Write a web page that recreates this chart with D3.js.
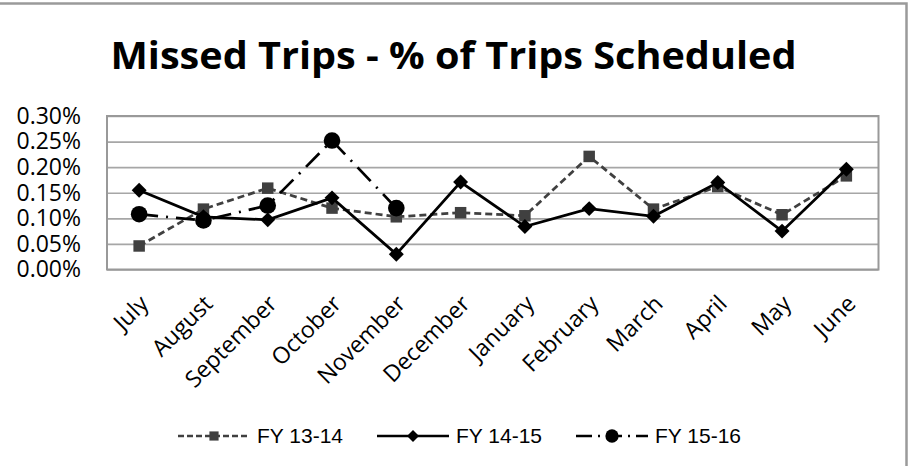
<!DOCTYPE html>
<html lang="en">
<head>
  <meta charset="UTF-8">
  <title>Missed Trips - % of Trips Scheduled</title>
  <style>
    body { margin: 0; background: #fff; }
    svg { display: block; }
    .axis-label { font-family: "Open Sans", sans-serif; font-size: 23px; fill: #000; }
    .legend-label { font-family: "Liberation Sans", Arial, sans-serif; font-size: 21px; fill: #000; }
  </style>
</head>
<body>
  <svg id="chart" width="912" height="466"></svg>

  <script src="https://d3js.org/d3.v7.min.js"></script>
  <script>
    // values (percent of trips scheduled)
    const months = ["July", "August", "September", "October", "November", "December",
                    "January", "February", "March", "April", "May", "June"];
    const yTicks = [0, 0.05, 0.10, 0.15, 0.20, 0.25, 0.30];
    const fy1314 = [0.046, 0.118, 0.159, 0.120, 0.103, 0.111, 0.105, 0.221, 0.118, 0.162, 0.107, 0.183];
    const fy1415 = [0.155, 0.103, 0.097, 0.140, 0.030, 0.171, 0.084, 0.119, 0.104, 0.170, 0.075, 0.196];
    const fy1516 = [0.108, 0.096, 0.125, 0.252, 0.120, null, null, null, null, null, null, null];
    const seriesNames = ["FY 13-14", "FY 14-15", "FY 15-16"];

    const series = [
      { name: seriesNames[0], values: fy1314, color: "#404040", dash: "7,4", legendDash: "6,3", marker: "square" },
      { name: seriesNames[1], values: fy1415, color: "#000", dash: null, legendDash: null, marker: "diamond" },
      { name: seriesNames[2], values: fy1516, color: "#000", dash: "19,8,2,8", legendDash: "16,6,2,6", marker: "circle" }
    ];

    const svg = d3.select("#chart");
    const plot = { left: 107, right: 878.5, top: 116, bottom: 269.5 };

    // outer chart border
    svg.append("rect")
      .attr("x", -2).attr("y", 3.5)
      .attr("width", 908.5).attr("height", 500)
      .attr("fill", "#fff")
      .attr("stroke", "#9a9a9a")
      .attr("stroke-width", 2.5);

    // title
    svg.append("text")
      .attr("x", 453.5).attr("y", 69)
      .attr("text-anchor", "middle")
      .attr("textLength", 686)
      .attr("lengthAdjust", "spacingAndGlyphs")
      .style("font-family", "'Open Sans', sans-serif")
      .style("font-weight", "bold")
      .style("font-size", "37px")
      .text("Missed Trips - % of Trips Scheduled");

    const x = d3.scaleBand().domain(months).range([plot.left, plot.right]);
    const y = d3.scaleLinear().domain([0, 0.30]).range([plot.bottom, plot.top]);
    const cx = m => x(m) + x.bandwidth() / 2;

    // gridlines
    svg.append("g")
      .attr("transform", `translate(${plot.left},0)`)
      .call(d3.axisLeft(y).tickValues(yTicks).tickSize(-(plot.right - plot.left)).tickFormat(""))
      .call(g => g.select(".domain").remove())
      .selectAll("line")
      .attr("stroke", "#a6a6a6")
      .attr("stroke-width", 1.6);

    // plot area border
    svg.append("rect")
      .attr("x", plot.left).attr("y", plot.top)
      .attr("width", plot.right - plot.left).attr("height", plot.bottom - plot.top)
      .attr("fill", "none")
      .attr("stroke", "#999")
      .attr("stroke-width", 2);

    // y axis labels
    svg.append("g")
      .attr("transform", `translate(${plot.left},0)`)
      .call(d3.axisLeft(y).tickValues(yTicks).tickSize(0).tickPadding(26).tickFormat(d => d.toFixed(2) + "%"))
      .call(g => g.select(".domain").remove())
      .selectAll("text")
      .attr("class", "axis-label")
      .attr("font-size", null)
      .attr("font-family", null);

    // x axis labels, rotated
    svg.append("g")
      .attr("transform", `translate(0,${plot.bottom})`)
      .call(d3.axisBottom(x).tickSize(0))
      .call(g => g.select(".domain").remove())
      .selectAll("text")
      .attr("class", "axis-label")
      .attr("y", null).attr("dy", "0.35em")
      .attr("text-anchor", "end")
      .attr("transform", "translate(5,30) rotate(-45)");

    const line = d3.line()
      .defined(d => d.v != null)
      .x(d => cx(d.m))
      .y(d => y(d.v));

    function drawMarker(sel, type, color, scale) {
      if (type === "square") {
        sel.append("path").attr("d", d3.symbol(d3.symbolSquare, 132 * scale * scale)).attr("fill", color);
      } else if (type === "diamond") {
        sel.append("path").attr("d", d3.symbol(d3.symbolSquare, 112 * scale * scale))
          .attr("transform", "rotate(45)").attr("fill", color);
      } else {
        sel.append("circle").attr("r", 8.3 * scale).attr("fill", color);
      }
    }

    series.forEach(s => {
      const pts = months.map((m, i) => ({ m, v: s.values[i] }));
      const g = svg.append("g");
      g.append("path")
        .datum(pts)
        .attr("d", line)
        .attr("fill", "none")
        .attr("stroke", s.color)
        .attr("stroke-width", 2.75)
        .attr("stroke-dasharray", s.dash);
      pts.filter(d => d.v != null).forEach(d => {
        const mg = g.append("g").attr("transform", `translate(${cx(d.m)},${y(d.v)})`);
        drawMarker(mg, s.marker, s.color, 1);
      });
    });

    // legend
    const legendY = 436;
    const legend = svg.append("g");
    series.forEach((s, i) => {
      const x0 = 178 + i * 199;
      const item = legend.append("g").attr("transform", `translate(${x0},${legendY})`);
      item.append("line")
        .attr("x1", 0).attr("x2", 72)
        .attr("stroke", s.color)
        .attr("stroke-width", 2.5)
        .attr("stroke-dasharray", s.legendDash);
      const mg = item.append("g").attr("transform", "translate(36,0)");
      drawMarker(mg, s.marker, s.color, 0.8);
      item.append("text")
        .attr("class", "legend-label")
        .attr("x", 79).attr("dy", "0.35em")
        .text(s.name);
    });
  </script>
</body>
</html>
